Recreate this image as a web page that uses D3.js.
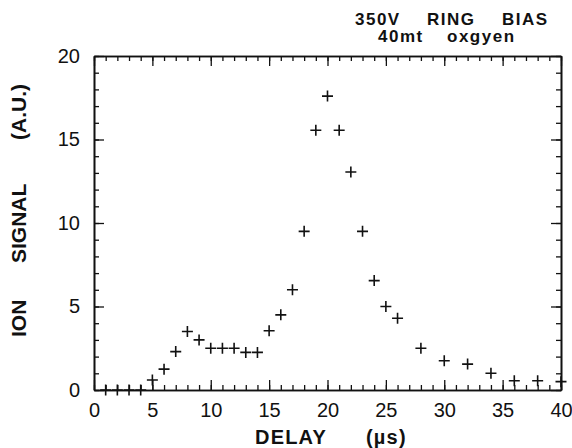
<!DOCTYPE html>
<html>
<head>
<meta charset="utf-8">
<script src="https://cdn.jsdelivr.net/npm/d3@7"></script>
<style>
  body { margin: 0; background: #fff; }
  svg { display: block; }
  .tick text { font-family: "Liberation Sans", Arial, sans-serif; font-size: 20px; fill: #111; }
  .title { font-family: "Liberation Sans", Arial, sans-serif; font-weight: bold; fill: #111; }
</style>
</head>
<body>
<script>
// delay (us) and ion signal (a.u.)
const delay = [1, 2, 3, 4, 5, 6, 7, 8, 9, 10, 11, 12, 13, 14, 15, 16, 17, 18, 19, 20,
  21, 22, 23, 24, 25, 26, 28, 30, 32, 34, 36, 38, 40];
const signal = [0, 0, 0, 0, 0.6, 1.25, 2.3, 3.5, 3.0, 2.5, 2.5, 2.5, 2.25, 2.25, 3.55, 4.5, 6.0, 9.5, 15.55, 17.6,
  15.55, 13.05, 9.5, 6.55, 5.0, 4.3, 2.5, 1.75, 1.55, 1.0, 0.55, 0.55, 0.5];
const xTicks = [0, 5, 10, 15, 20, 25, 30, 35, 40];
const yTicks = [0, 5, 10, 15, 20];

const W = 572, H = 448;
const margin = { top: 56, right: 11, bottom: 58, left: 94 },
  width = W - margin.left - margin.right,
  height = H - margin.top - margin.bottom;

const svg = d3.select("body").append("svg").attr("width", W).attr("height", H);
const g = svg.append("g").attr("transform", `translate(${margin.left},${margin.top})`);

const x = d3.scaleLinear().domain([0, 40]).range([0, width]);
const y = d3.scaleLinear().domain([0, 20]).range([height, 0]);

const minorX = d3.range(0, 41), minorY = d3.range(0, 21);

function styleAxis(sel) {
  sel.select(".domain").attr("stroke", "#111").attr("stroke-width", 1.6);
  sel.selectAll(".tick line").attr("stroke", "#111").attr("stroke-width", 1.3);
}

// bottom
g.append("g").attr("transform", `translate(0,${height})`)
  .call(d3.axisBottom(x).tickValues(minorX).tickSizeInner(-5).tickSizeOuter(0).tickFormat(""))
  .call(styleAxis);
g.append("g").attr("transform", `translate(0,${height})`)
  .call(d3.axisBottom(x).tickValues(xTicks).tickSizeInner(-10).tickSizeOuter(0).tickPadding(13).tickFormat(d3.format("d")))
  .call(styleAxis);
// top
g.append("g")
  .call(d3.axisTop(x).tickValues(minorX).tickSizeInner(-5).tickSizeOuter(0).tickFormat(""))
  .call(styleAxis);
g.append("g")
  .call(d3.axisTop(x).tickValues(xTicks).tickSizeInner(-10).tickSizeOuter(0).tickFormat(""))
  .call(styleAxis);
// left
g.append("g")
  .call(d3.axisLeft(y).tickValues(minorY).tickSizeInner(-5).tickSizeOuter(0).tickFormat(""))
  .call(styleAxis);
g.append("g")
  .call(d3.axisLeft(y).tickValues(yTicks).tickSizeInner(-10).tickSizeOuter(0).tickPadding(14).tickFormat(d3.format("d")))
  .call(styleAxis);
// right
g.append("g").attr("transform", `translate(${width},0)`)
  .call(d3.axisRight(y).tickValues(minorY).tickSizeInner(-5).tickSizeOuter(0).tickFormat(""))
  .call(styleAxis);
g.append("g").attr("transform", `translate(${width},0)`)
  .call(d3.axisRight(y).tickValues(yTicks).tickSizeInner(-10).tickSizeOuter(0).tickFormat(""))
  .call(styleAxis);

g.selectAll(".tick text").attr("fill", "#111");

// points as plus markers
g.selectAll(".pt")
  .data(delay.map((d, i) => [d, signal[i]]))
  .join("path")
  .attr("class", "pt")
  .attr("transform", (d) => `translate(${x(d[0])},${y(d[1])})`)
  .attr("d", "M-5.5,0H5.5M0,-5.5V5.5")
  .attr("stroke", "#111")
  .attr("stroke-width", 1.6)
  .attr("fill", "none");

// x title
const xt = svg.append("g").attr("class", "title").style("font-size", "20px").style("letter-spacing", "1.2px");
xt.append("text").attr("x", 255).attr("y", 444).text("DELAY");
xt.append("text").attr("x", 366).attr("y", 444).text("(\u00b5s)");

// y title, word by word along the rotated baseline
const yt = svg.append("g").attr("class", "title").style("font-size", "21px")
  .attr("transform", "translate(26,0) rotate(-90)");
[["ION", 337], ["SIGNAL", 263], ["(A.U.)", 140]]
  .forEach(([t, start]) => yt.append("text").attr("x", -start).attr("y", 0).text(t));

// annotation
const note = svg.append("g").attr("class", "title").style("font-size", "17px").style("letter-spacing", "1.5px");
[["350V", 355, 25], ["RING", 427, 25], ["BIAS", 502, 25], ["40mt", 378, 42], ["oxgyen", 447, 42]]
  .forEach(([t, tx, ty]) => note.append("text").attr("x", tx).attr("y", ty).text(t));
</script>
</body>
</html>
